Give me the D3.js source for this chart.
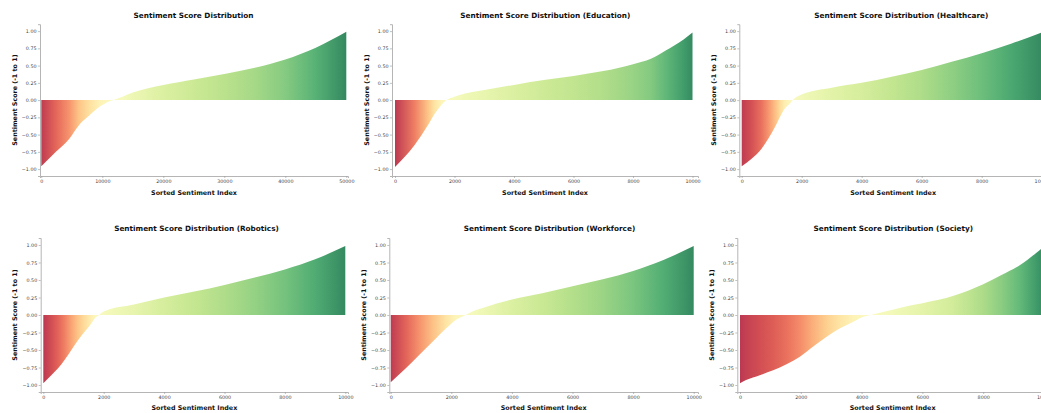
<!DOCTYPE html>
<html><head><meta charset="utf-8">
<script src="https://cdn.jsdelivr.net/npm/d3@7"></script>
<style>body{margin:0;background:#fff}svg{display:block}</style>
</head><body><svg id="c" width="1041" height="413"></svg>
<script>
// ---- data ----
const titles = [
  "Sentiment Score Distribution",
  "Sentiment Score Distribution (Education)",
  "Sentiment Score Distribution (Healthcare)",
  "Sentiment Score Distribution (Robotics)",
  "Sentiment Score Distribution (Workforce)",
  "Sentiment Score Distribution (Society)"
];
const xLabel = "Sorted Sentiment Index";
const yLabel = "Sentiment Score (-1 to 1)";
const counts = [50000, 10000, 10000, 10000, 10000, 10000];

const overallIdx   = [0, 2400, 4600, 6200, 7900, 9500, 11100, 11800, 13300, 15000, 20000, 25000, 30000, 35000, 40000, 45000, 50000];
const overallScore = [-0.96, -0.75, -0.56, -0.36, -0.22, -0.10, -0.02, 0, 0.05, 0.11, 0.22, 0.30, 0.38, 0.47, 0.59, 0.76, 0.99];

const educationIdx   = [0, 660, 1110, 1330, 1560, 1730, 2000, 2400, 3000, 4000, 5000, 6000, 7000, 8000, 8600, 9100, 9700, 10000];
const educationScore = [-0.97, -0.65, -0.36, -0.20, -0.07, 0, 0.05, 0.10, 0.145, 0.22, 0.29, 0.35, 0.42, 0.52, 0.60, 0.72, 0.88, 0.98];

const healthcareIdx   = [0, 330, 670, 890, 1110, 1280, 1440, 1610, 1700, 2000, 3000, 4000, 5000, 6000, 7000, 8000, 9000, 10000];
const healthcareScore = [-0.96, -0.85, -0.70, -0.555, -0.39, -0.24, -0.12, -0.05, 0, 0.08, 0.18, 0.25, 0.34, 0.435, 0.555, 0.68, 0.82, 0.98];

const roboticsIdx   = [0, 265, 490, 710, 930, 1150, 1370, 1590, 1720, 1850, 2000, 3000, 4000, 5000, 6000, 7000, 8000, 9000, 10000];
const roboticsScore = [-0.975, -0.86, -0.76, -0.64, -0.50, -0.36, -0.24, -0.12, -0.04, 0, 0.05, 0.15, 0.25, 0.335, 0.43, 0.535, 0.65, 0.795, 0.985];

const workforceIdx   = [0, 500, 940, 1390, 1830, 2150, 2470, 2730, 3060, 4000, 5000, 6000, 7000, 8000, 9000, 10000];
const workforceScore = [-0.96, -0.76, -0.57, -0.38, -0.19, -0.07, 0, 0.057, 0.105, 0.22, 0.31, 0.41, 0.51, 0.63, 0.785, 0.985];

const societyIdx   = [0, 200, 650, 1090, 1530, 1970, 2410, 2850, 3290, 3730, 4060, 4300, 4840, 5280, 6000, 7000, 8000, 8600, 9200, 9750, 10000];
const societyScore = [-0.975, -0.93, -0.86, -0.79, -0.705, -0.595, -0.45, -0.31, -0.19, -0.095, -0.024, 0, 0.057, 0.105, 0.167, 0.27, 0.44, 0.57, 0.71, 0.89, 0.98];

const yTicks = [-1, -0.75, -0.5, -0.25, 0, 0.25, 0.5, 0.75, 1];
const xTicksOverall = [0, 10000, 20000, 30000, 40000, 50000];
const xTicksTopic = [0, 2000, 4000, 6000, 8000, 10000];

// ---- layout (pixel positions) ----
const layout = [
  {spineL: 40,    zeroX: 41.3,  fullX: 346.3,  spineR: 348,  top: 24.2, bottom: 176, titleX: 193.5, titleY: 17.5, xlabY: 194.5},
  {spineL: 392,   zeroX: 395,   fullX: 692.5,  spineR: 698,  top: 24.2, bottom: 176, titleX: 545.3, titleY: 17.5, xlabY: 194.5},
  {spineL: 739.3, zeroX: 741.7, fullX: 1041.7, spineR: 1047, top: 24.2, bottom: 176, titleX: 901.3, titleY: 17.5, xlabY: 194.5},
  {spineL: 40.7,  zeroX: 43.3,  fullX: 345.3,  spineR: 348,  top: 238,  bottom: 392, titleX: 196.5, titleY: 231,  xlabY: 410},
  {spineL: 389.3, zeroX: 390.7, fullX: 693.7,  spineR: 698,  top: 238,  bottom: 392, titleX: 549.5, titleY: 231,  xlabY: 410},
  {spineL: 737.3, zeroX: 740,   fullX: 1044,   spineR: 1048, top: 238,  bottom: 392, titleX: 893.3, titleY: 231,  xlabY: 410}
];

const series = [
  [overallIdx, overallScore],
  [educationIdx, educationScore],
  [healthcareIdx, healthcareScore],
  [roboticsIdx, roboticsScore],
  [workforceIdx, workforceScore],
  [societyIdx, societyScore]
];
const xTickSets = [xTicksOverall, xTicksTopic, xTicksTopic, xTicksTopic, xTicksTopic, xTicksTopic];

const svg = d3.select("#c");
const defs = svg.append("defs");
const color = v => d3.interpolateRdYlGn((v + 1) / 2);
const fmtY = v => d3.format(".2f")(v).replace("-", "\u2212");
const FONT = "DejaVu Sans, sans-serif";

series.forEach(([idx, score], i) => {
  const L = layout[i];
  const N = counts[i];
  const x0 = d3.scaleLinear().domain([0, N]).range([L.zeroX, L.fullX]);
  const x = d3.scaleLinear().domain([x0.invert(L.spineL), x0.invert(L.spineR)]).range([L.spineL, L.spineR]);
  const y = d3.scaleLinear().domain([-1.1, 1.1]).range([L.bottom, L.top]);
  const data = idx.map((d, k) => ({i: d, v: score[k]}));

  const gid = "grad" + i;
  const grad = defs.append("linearGradient").attr("id", gid)
    .attr("gradientUnits", "userSpaceOnUse")
    .attr("x1", x(0)).attr("x2", x(N)).attr("y1", 0).attr("y2", 0);
  data.forEach(d => {
    grad.append("stop").attr("offset", d.i / N).attr("stop-color", color(d.v));
  });

  const g = svg.append("g");
  const area = d3.area().x(d => x(d.i)).y0(y(0)).y1(d => y(d.v)).curve(d3.curveMonotoneX);
  g.append("path").datum(data).attr("d", area)
    .attr("fill", `url(#${gid})`).attr("fill-opacity", 0.8);

  // axes
  const ax = g.append("g").attr("transform", `translate(0,${L.bottom})`)
    .call(d3.axisBottom(x).tickValues(xTickSets[i]).tickFormat(d3.format("d")).tickSizeOuter(0).tickSize(2).tickPadding(1.5));
  const ay = g.append("g").attr("transform", `translate(${L.spineL},0)`)
    .call(d3.axisLeft(y).tickValues(yTicks).tickFormat(fmtY).tickSizeOuter(0).tickSize(2).tickPadding(1.5));
  [ax, ay].forEach(a => {
    a.select(".domain").attr("stroke", "#b5b5b5").attr("stroke-width", 1);
    a.selectAll(".tick line").attr("stroke", "#999").attr("stroke-width", 0.6);
    a.selectAll(".tick text").attr("fill", "#444").attr("font-family", FONT).attr("font-size", 4.8);
  });

  g.append("text").attr("x", L.titleX).attr("y", L.titleY).attr("text-anchor", "middle")
    .attr("font-family", FONT).attr("font-weight", "bold").attr("font-size", 7.3).attr("fill", "#111")
    .text(titles[i]);
  g.append("text").attr("x", (L.spineL + L.spineR) / 2).attr("y", L.xlabY).attr("text-anchor", "middle")
    .attr("font-family", FONT).attr("font-weight", "bold").attr("font-size", 6.4).attr("fill", "#111")
    .text(xLabel);
  const ylx = L.spineL - 23.5, yly = (L.top + L.bottom) / 2;
  g.append("text").attr("transform", `translate(${ylx},${yly}) rotate(-90)`).attr("text-anchor", "middle")
    .attr("font-family", FONT).attr("font-weight", "bold").attr("font-size", 6.4).attr("fill", "#111")
    .text(yLabel);
});
</script></body></html>
